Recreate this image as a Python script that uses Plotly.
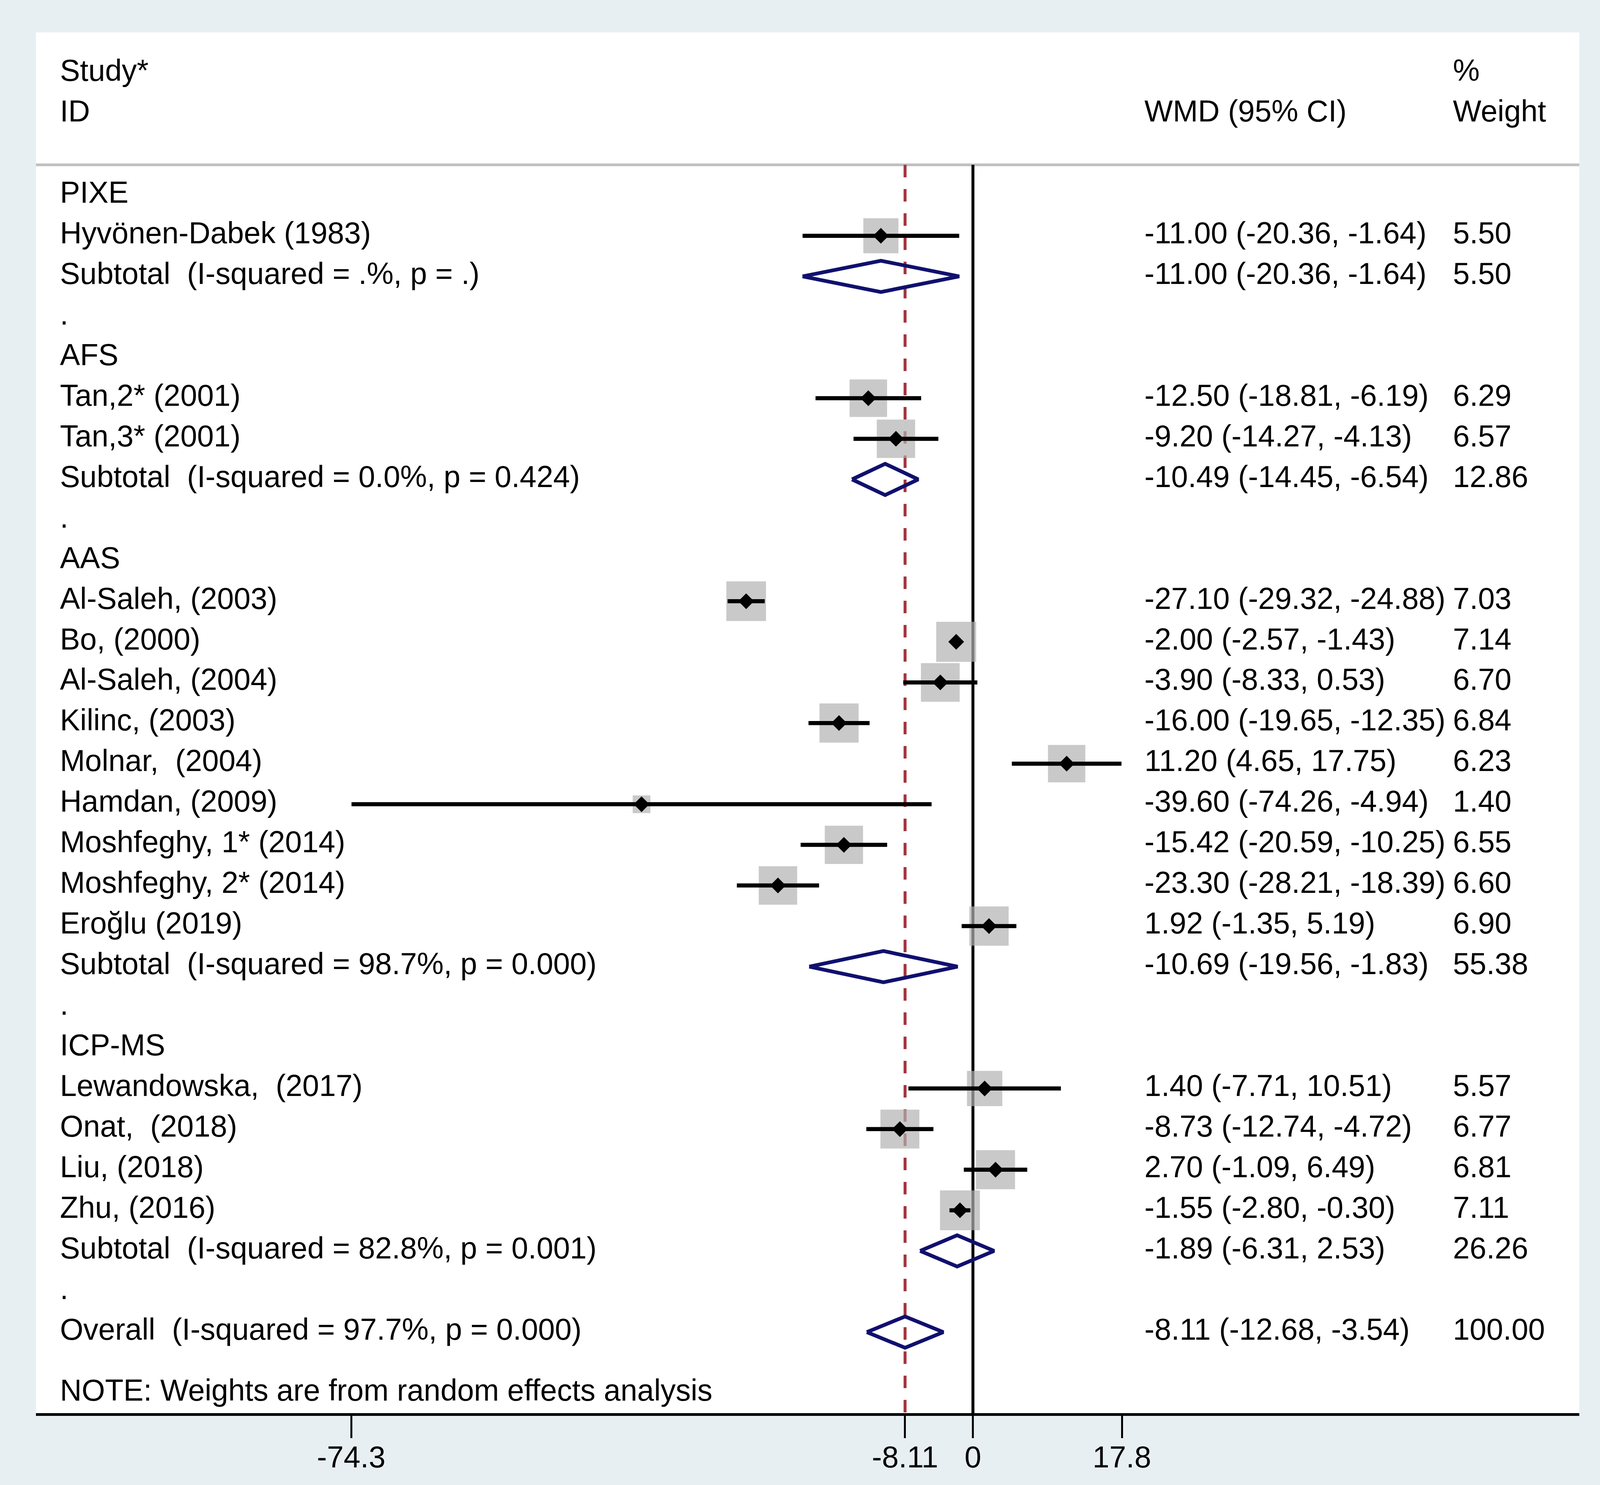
import math
import plotly.graph_objects as go

# ---------------- data ----------------
group_names = ["PIXE", "AFS", "AAS", "ICP-MS"]

study_names = [
    "Hyvönen-Dabek (1983)",
    "Tan,2* (2001)", "Tan,3* (2001)",
    "Al-Saleh, (2003)", "Bo, (2000)", "Al-Saleh, (2004)", "Kilinc, (2003)",
    "Molnar,\u00a0 (2004)", "Hamdan, (2009)", "Moshfeghy, 1* (2014)",
    "Moshfeghy, 2* (2014)", "Eroğlu (2019)",
    "Lewandowska,\u00a0 (2017)", "Onat,\u00a0 (2018)", "Liu, (2018)", "Zhu, (2016)",
]
study_group = [0, 1, 1, 2, 2, 2, 2, 2, 2, 2, 2, 2, 3, 3, 3, 3]
study_wmd = [-11.00, -12.50, -9.20, -27.10, -2.00, -3.90, -16.00, 11.20, -39.60,
             -15.42, -23.30, 1.92, 1.40, -8.73, 2.70, -1.55]
study_lo = [-20.36, -18.81, -14.27, -29.32, -2.57, -8.33, -19.65, 4.65, -74.26,
            -20.59, -28.21, -1.35, -7.71, -12.74, -1.09, -2.80]
study_hi = [-1.64, -6.19, -4.13, -24.88, -1.43, 0.53, -12.35, 17.75, -4.94,
            -10.25, -18.39, 5.19, 10.51, -4.72, 6.49, -0.30]
study_weight = [5.50, 6.29, 6.57, 7.03, 7.14, 6.70, 6.84, 6.23, 1.40,
                6.55, 6.60, 6.90, 5.57, 6.77, 6.81, 7.11]

sub_i2 = [".", "0.0", "98.7", "82.8"]
sub_p = [".", "0.424", "0.000", "0.001"]
sub_wmd = [-11.00, -10.49, -10.69, -1.89]
sub_lo = [-20.36, -14.45, -19.56, -6.31]
sub_hi = [-1.64, -6.54, -1.83, 2.53]
sub_weight = [5.50, 12.86, 55.38, 26.26]

overall_i2 = "97.7"
overall_p = "0.000"
overall_wmd = -8.11
overall_lo = -12.68
overall_hi = -3.54
overall_weight = 100.00

tick_vals = [-74.3, -8.11, 0, 17.8]
tick_text = ["-74.3", "-8.11", "0", "17.8"]

note_text = "NOTE: Weights are from random effects analysis"

# ---------------- styling ----------------
FONT = "Liberation Sans, Arial, Helvetica, sans-serif"
FS = 77
BG = "#e8eff2"
NAVY = "#10106f"
MAROON = "#a3343d"
SQUARE = "#b2b2b2"

X_LEFT, X_WMD, X_W = -109.1, 20.5, 57.36   # text column anchors (axis units)

def fmt_ci(e, lo, hi):
    return f"{e:.2f} ({lo:.2f}, {hi:.2f})"

# ---------------- build rows ----------------
left_txt, left_y = [], []
mid_txt, mid_y = [], []
w_txt, w_y = [], []
st_idx, st_rows = [], []
sub_y = []

r = 0
for g, gname in enumerate(group_names):
    left_txt.append(gname); left_y.append(r); r += 1
    for i, gi in enumerate(study_group):
        if gi != g:
            continue
        left_txt.append(study_names[i]); left_y.append(r)
        mid_txt.append(fmt_ci(study_wmd[i], study_lo[i], study_hi[i])); mid_y.append(r)
        w_txt.append(f"{study_weight[i]:.2f}"); w_y.append(r)
        st_idx.append(i); st_rows.append(r)
        r += 1
    left_txt.append(f"Subtotal\u00a0 (I-squared = {sub_i2[g]}%, p = {sub_p[g]})"); left_y.append(r)
    mid_txt.append(fmt_ci(sub_wmd[g], sub_lo[g], sub_hi[g])); mid_y.append(r)
    w_txt.append(f"{sub_weight[g]:.2f}"); w_y.append(r)
    sub_y.append(r)
    r += 1
    left_txt.append("."); left_y.append(r); r += 1

overall_row = r
left_txt.append(f"Overall\u00a0 (I-squared = {overall_i2}%, p = {overall_p})"); left_y.append(r)
mid_txt.append(fmt_ci(overall_wmd, overall_lo, overall_hi)); mid_y.append(r)
w_txt.append(f"{overall_weight:.2f}"); w_y.append(r)
note_row = r + 1.5

fig = go.Figure()

# weight squares (area proportional to weight)
fig.add_trace(go.Scatter(
    x=[study_wmd[i] for i in st_idx], y=st_rows, mode="markers",
    marker=dict(symbol="square", color=SQUARE,
                size=[38.3 * math.sqrt(study_weight[i]) for i in st_idx],
                line=dict(width=0)),
    hoverinfo="skip", showlegend=False))

# CI lines
cx, cy = [], []
for i, rr in zip(st_idx, st_rows):
    cx += [study_lo[i], study_hi[i], None]
    cy += [rr, rr, None]
fig.add_trace(go.Scatter(x=cx, y=cy, mode="lines",
                         line=dict(color="black", width=10.5),
                         hoverinfo="skip", showlegend=False))

# point estimates
fig.add_trace(go.Scatter(
    x=[study_wmd[i] for i in st_idx], y=st_rows, mode="markers",
    marker=dict(symbol="diamond", color="black", size=31, line=dict(width=0)),
    hoverinfo="skip", showlegend=False))

# pooled diamonds
H = 0.385
dx, dy = [], []
pooled = list(zip(sub_wmd, sub_lo, sub_hi, sub_y)) + [(overall_wmd, overall_lo, overall_hi, overall_row)]
for e, lo, hi, rr in pooled:
    dx += [lo, e, hi, e, lo, None]
    dy += [rr, rr - H, rr, rr + H, rr, None]
fig.add_trace(go.Scatter(x=dx, y=dy, mode="lines",
                         line=dict(color=NAVY, width=9.5),
                         hoverinfo="skip", showlegend=False))

# text columns
tfont = dict(family=FONT, size=FS, color="black")
def add_text(x, ys, txts):
    fig.add_trace(go.Scatter(x=[x] * len(ys), y=ys, text=txts, mode="text",
                             textposition="middle right", textfont=tfont,
                             cliponaxis=False, hoverinfo="skip", showlegend=False))

add_text(X_LEFT, [-3, -2] + left_y + [note_row], ["Study*", "ID"] + left_txt + [note_text])
add_text(X_WMD, [-2] + mid_y, ["WMD (95% CI)"] + mid_txt)
add_text(X_W, [-3, -2] + w_y, ["%", "Weight"] + w_txt)

# axis ranges (data units at the edges of the white panel)
XMIN, XMAX = -111.97, 72.46
YBOT, YTOP = 29.995, -4.008
HEADER_Y = -0.747

shapes = [
    dict(type="line", xref="paper", yref="y", x0=0, x1=1, y0=HEADER_Y, y1=HEADER_Y,
         line=dict(color="#c0c0c0", width=7), layer="below"),
    dict(type="line", xref="x", yref="y", x0=0, x1=0, y0=HEADER_Y, y1=YBOT,
         line=dict(color="black", width=7.5), layer="below"),
    dict(type="line", xref="x", yref="y", x0=overall_wmd, x1=overall_wmd, y0=HEADER_Y, y1=YBOT,
         line=dict(color=MAROON, width=7.5, dash="32px,30px"), layer="below"),
]

fig.update_layout(
    width=4088, height=3794,
    margin=dict(l=84, r=53, t=75, b=184, pad=0),
    paper_bgcolor=BG, plot_bgcolor="white",
    showlegend=False,
    shapes=shapes,
    xaxis=dict(range=[XMIN, XMAX], tickmode="array", tickvals=tick_vals, ticktext=tick_text,
               showline=True, linecolor="black", linewidth=7,
               ticks="outside", ticklen=57, tickwidth=4.7, tickcolor="black",
               ticklabelstandoff=-17,
               tickfont=dict(family=FONT, size=FS, color="black"),
               showgrid=False, zeroline=False, fixedrange=True),
    yaxis=dict(range=[YBOT, YTOP], visible=False, showgrid=False, zeroline=False, fixedrange=True),
)

fig.write_html("out.html", post_script="document.body.style.background='%s';" % BG)
